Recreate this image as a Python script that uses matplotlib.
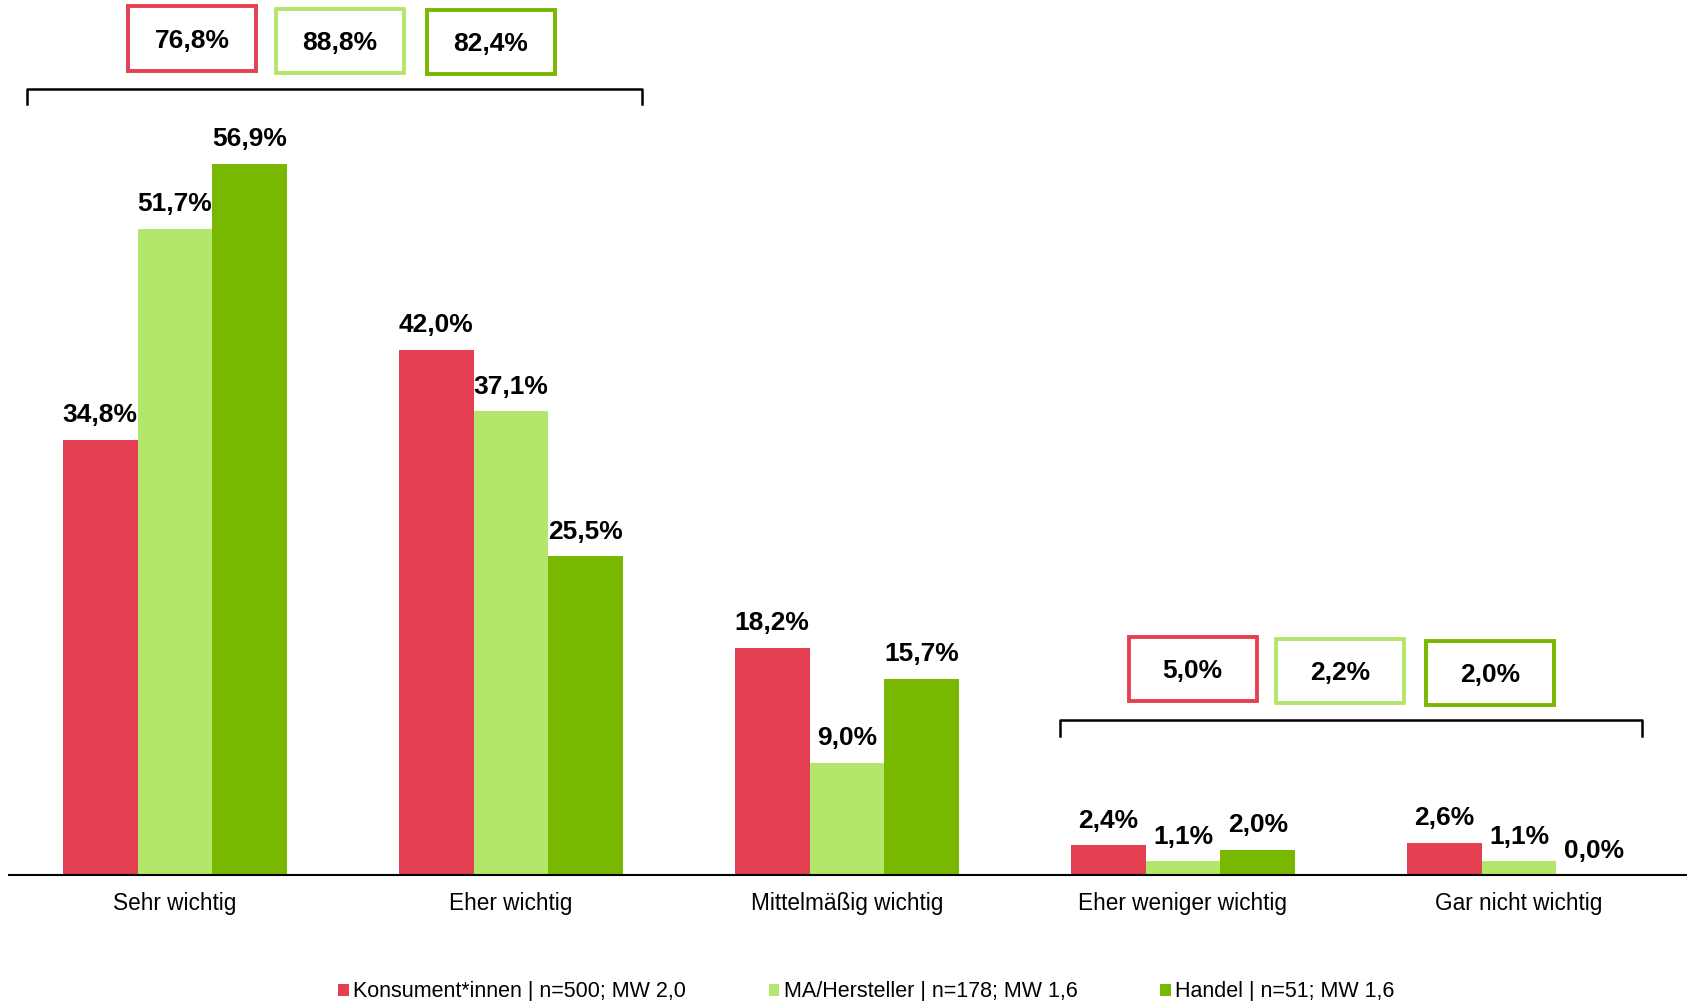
import matplotlib
matplotlib.use("Agg")
import matplotlib.pyplot as plt
from matplotlib.patches import Rectangle
import numpy as np

plt.rcParams['font.family'] = ['Liberation Sans', 'DejaVu Sans']

categories = ["Sehr wichtig", "Eher wichtig", "Mittelmäßig wichtig",
              "Eher weniger wichtig", "Gar nicht wichtig"]
series_names = ["Konsument*innen | n=500; MW 2,0",
                "MA/Hersteller | n=178; MW 1,6",
                "Handel | n=51; MW 1,6"]
konsument = [34.8, 42.0, 18.2, 2.4, 2.6]
hersteller = [51.7, 37.1, 9.0, 1.1, 1.1]
handel = [56.9, 25.5, 15.7, 2.0, 0.0]
top2_box = [76.8, 88.8, 82.4]
bottom2_box = [5.0, 2.2, 2.0]

colors = ["#E54052", "#B3E66A", "#78B800"]

fig = plt.figure(figsize=(16.87, 10.01), dpi=100)
ax = fig.add_axes([9 / 1687, 126 / 1001, 1 - 9 / 1687, 1 - 126 / 1001])

x = np.arange(len(categories))
w = 0.223
series = [konsument, hersteller, handel]
bars = []
for i, (vals, c, name) in enumerate(zip(series, colors, series_names)):
    b = ax.bar(x + (i - 1) * w, vals, width=w, color=c, label=name, linewidth=0)
    bars.append(b)
    for xi, v in zip(x + (i - 1) * w, vals):
        ax.annotate(f"{v:.1f}%".replace(".", ","), (xi, v), xytext=(0, 9),
                    textcoords="offset points", ha="center", va="bottom",
                    fontsize=19, fontweight="bold")

ax.set_xlim(-0.494, 4.5)
ax.set_ylim(0, 70)
ax.set_xticks(x)
ax.set_xticklabels(categories, fontsize=16.3)
ax.tick_params(axis="x", length=0, pad=12.5)
ax.set_yticks([])
for s in ["top", "right", "left"]:
    ax.spines[s].set_visible(False)
ax.spines["bottom"].set_linewidth(1.5)

# brackets
def bracket(x0, x1, ytop, yend):
    ax.plot([x0, x0, x1, x1], [yend, ytop, ytop, yend], color="black",
            lw=1.8, clip_on=False, solid_joinstyle="round")

bracket(-0.44, 1.39, 62.9, 61.7)
bracket(2.634, 4.366, 12.4, 11.1)

# boxes
bw, bh = 0.381, 5.16
top_pos = [(0.052, 66.9), (0.491, 66.74), (0.940, 66.65)]
bot_pos = [(3.029, 16.48), (3.467, 16.34), (3.915, 16.17)]
for vals, poss in [(top2_box, top_pos), (bottom2_box, bot_pos)]:
    for v, (cx, cy), c in zip(vals, poss, colors):
        ax.add_patch(Rectangle((cx - bw / 2, cy - bh / 2), bw, bh, fill=False,
                               edgecolor=c, lw=2.8, clip_on=False))
        ax.annotate(f"{v:.1f}%".replace(".", ","), (cx, cy), xytext=(0, -1.5),
                    textcoords="offset points", ha="center", va="center",
                    fontsize=19, fontweight="bold")

fig.legend(handles=bars, labels=series_names, loc="center",
           bbox_to_anchor=(0.5135, 0.009), ncol=3, frameon=False,
           fontsize=15.5, handlelength=0.5, handleheight=0.5,
           handletextpad=0.2, columnspacing=3.85, borderpad=0, borderaxespad=0)

fig.savefig("out.png", dpi=100)
